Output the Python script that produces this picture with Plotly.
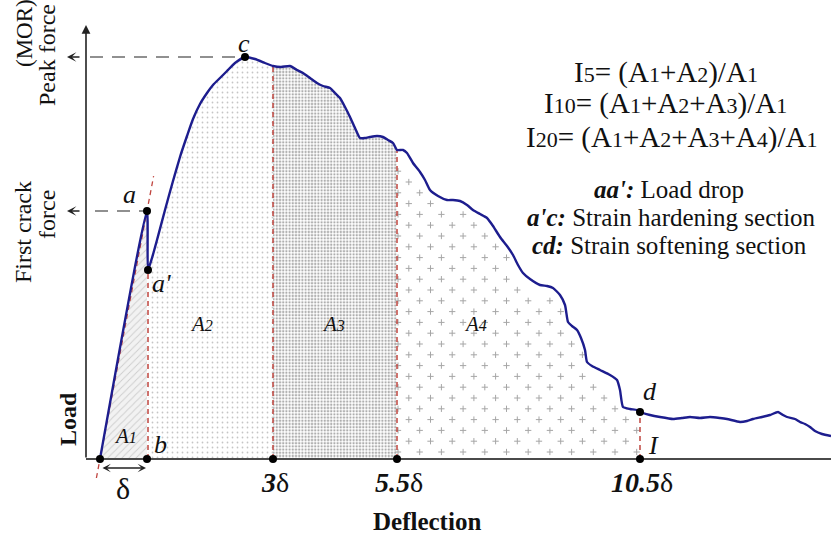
import numpy as np
import plotly.graph_objects as go

# Load-deflection curve (schematic units: deflection and load)
deflection = [0.0, 4.7, 4.8, 5.2, 5.7, 6.5, 7.3, 8.0, 8.7, 9.3, 10.0, 10.7, 11.3, 12.0, 12.7, 13.5, 14.5,
              15.5, 16.5, 17.3, 18.1, 19.0, 19.7, 20.3, 21.0, 21.7, 22.3, 23.0, 23.5, 24.0, 24.5, 25.0,
              25.5, 26.0, 26.5, 27.0, 27.7, 28.3, 28.8, 29.3, 29.7,
              30.3, 30.7, 31.3, 32.0, 32.5, 33.0, 33.8, 34.7, 35.3, 36.0, 36.7, 37.3, 38.0, 38.7, 39.3,
              40.0, 40.7, 41.3, 41.8, 42.3, 43.0, 44.0, 44.7, 45.3, 46.0, 46.5, 46.8, 47.2, 47.7, 48.1,
              48.5, 48.7, 49.2, 50.0, 51.0, 51.7, 52.0, 52.3, 53.0, 53.7, 54.0,
              55.0, 56.0, 57.3, 58.2, 59.0, 60.0, 61.0, 62.0, 62.7, 64.0, 64.7, 65.3, 66.2, 67.0, 67.8,
              68.3, 68.7, 69.5, 70.0, 70.5, 71.0, 71.5, 72.2, 73.1]
load = [0.0, 24.8, 18.9, 20.1, 21.9, 24.9, 27.8, 30.2, 32.3, 34.0, 35.5, 36.6, 37.4, 38.1, 38.8, 39.6, 40.2,
        40.0, 39.6, 39.3, 39.2, 39.3, 38.9, 38.6, 38.1, 37.6, 37.3, 37.1, 36.6, 36.1, 35.2, 34.2,
        33.1, 32.1, 32.1, 32.2, 32.3, 32.2, 31.9, 31.6, 30.9,
        30.9, 30.6, 29.6, 28.7, 27.9, 26.9, 26.3, 25.9, 25.9, 25.8, 25.4, 24.9, 24.5, 24.1, 23.3,
        22.2, 21.3, 20.4, 19.4, 18.6, 18.0, 17.4, 17.3, 17.1, 16.4, 15.4, 13.7, 13.3, 12.9, 12.1,
        10.9, 9.7, 9.3, 8.9, 8.4, 7.9, 6.9, 5.2, 5.0, 4.9, 4.7,
        4.4, 4.2, 4.0, 4.1, 4.2, 4.1, 4.2, 4.1, 4.0, 3.7, 3.8, 4.0, 4.2, 4.4, 4.7,
        4.4, 4.2, 4.0, 3.7, 3.5, 3.2, 2.8, 2.5, 2.3]

# Characteristic points
pt_names = ["a", "a'", "c", "d"]
pt_defl = [4.7, 4.8, 14.5, 54.0]
pt_load = [24.8, 18.9, 40.2, 4.7]

# Deflection marks on the horizontal axis
mark_defl = [0.0, 4.7, 17.3, 29.7, 54.0]
mark_text = ["", "", "<b><i>3</i></b>δ", "<b><i>5.5</i></b>δ", "<b><i>10.5</i></b>δ"]

first_crack = 24.8
peak_force = 40.2

FONT = "Liberation Serif, Times New Roman, Times, serif"
INK = "#111111"
CURVE = "#1d1d8e"
RED = "#c0453f"

idx = {v: i for i, v in enumerate(deflection)}
i_a, i_a2, i_3, i_55, i_d = idx[4.7], idx[4.8], idx[17.3], idx[29.7], idx[54.0]

fig = go.Figure()


def region(xs, ys, pattern=None, color="white"):
    px = [xs[0]] + list(xs) + [xs[-1]]
    py = [0.0] + list(ys) + [0.0]
    fig.add_trace(go.Scatter(x=px, y=py, mode="lines", fill="toself", line=dict(width=0),
                             fillcolor=color, fillpattern=pattern, hoverinfo="skip", showlegend=False))


# A1 .. A4 areas under the curve
region(deflection[:i_a + 1], load[:i_a + 1],
       dict(shape="/", size=5, solidity=0.18, fgcolor="#a8a8a8", bgcolor="#f2f2f2"))
region(deflection[i_a2:i_3 + 1], load[i_a2:i_3 + 1],
       dict(shape=".", size=5, solidity=0.10, fgcolor="#8c8c8c", bgcolor="white"))
region(deflection[i_3:i_55 + 1], load[i_3:i_55 + 1],
       dict(shape=".", size=3.2, solidity=0.42, fgcolor="#5e5e5e", bgcolor="white"))
region(deflection[i_55:i_d + 1], load[i_55:i_d + 1])

# "+" texture of A4
cx, cy = [], []
for k, yy in enumerate(np.arange(0.7, 33.0, 1.08)):
    x0 = deflection[i_55] + 0.1 + (1.08 if k % 2 else 0.0)
    for xx in np.arange(x0, deflection[i_d] - 0.2, 2.17):
        if yy < np.interp(xx, deflection, load) - 0.9:
            cx.append(xx)
            cy.append(yy)
fig.add_trace(go.Scatter(x=cx, y=cy, mode="markers", hoverinfo="skip", showlegend=False,
                         marker=dict(symbol="cross-thin", size=4.5, line=dict(width=1, color="#a6a6a6"))))

# Red dashed boundaries of the areas
for i in [i_a2, i_3, i_55, i_d]:
    fig.add_trace(go.Scatter(x=[deflection[i], deflection[i]], y=[0, load[i]], mode="lines",
                             line=dict(color=RED, width=1.5, dash="5px,4px"),
                             hoverinfo="skip", showlegend=False))

# Tangent to the linear-elastic branch
slope = load[i_a] / deflection[i_a]
tx = [-0.36, 5.36]
fig.add_trace(go.Scatter(x=tx, y=[slope * t for t in tx], mode="lines",
                         line=dict(color=RED, width=1.3, dash="5px,4px"),
                         hoverinfo="skip", showlegend=False))

# Reference levels for first crack force and peak force
fig.add_trace(go.Scatter(x=[-1.0, pt_defl[2]], y=[peak_force, peak_force], mode="lines",
                         line=dict(color="#222222", width=1.2, dash="13px,9px"),
                         hoverinfo="skip", showlegend=False))
fig.add_trace(go.Scatter(x=[-0.5, pt_defl[0]], y=[first_crack, first_crack], mode="lines",
                         line=dict(color="#222222", width=1.2, dash="13px,9px"),
                         hoverinfo="skip", showlegend=False))

# Horizontal axis line
fig.add_trace(go.Scatter(x=[-1.4, 73.1], y=[0, 0], mode="lines",
                         line=dict(color="#4a4a4a", width=2), hoverinfo="skip", showlegend=False))

# Load-deflection curve
fig.add_trace(go.Scatter(x=deflection, y=load, mode="lines", line_shape="spline",
                         line=dict(color=CURVE, width=2.4, smoothing=0.5),
                         hoverinfo="skip", showlegend=False))

# Points
fig.add_trace(go.Scatter(x=mark_defl + pt_defl, y=[0] * len(mark_defl) + pt_load, mode="markers",
                         marker=dict(color="black", size=8), hoverinfo="skip", showlegend=False))

ann = []


def txt(x, y, s, size, angle=0):
    ann.append(dict(x=x, y=y, xref="x", yref="y", text=s, showarrow=False, textangle=angle,
                    xanchor="center", yanchor="middle", font=dict(family=FONT, size=size, color=INK)))


def arrow(x, y, ax, ay, head=2, side="end", width=1.4, size=1.0):
    ann.append(dict(x=x, y=y, ax=ax, ay=ay, xref="x", yref="y", axref="x", ayref="y", text="",
                    showarrow=True, arrowhead=head, arrowside=side, arrowwidth=width,
                    arrowsize=size, arrowcolor="#222222", standoff=0, startstandoff=0,
                    startarrowhead=head, startarrowsize=size))


# Vertical axis with arrow
arrow(-1.4, 43.4, -1.4, 0.0, head=2, width=1.6, size=1.1)
# Arrows toward the force levels
arrow(-3.3, peak_force, -1.9, peak_force, head=3, width=1.3, size=1.2)
arrow(-3.3, first_crack, -1.9, first_crack, head=3, width=1.3, size=1.2)
# Deflection δ span
arrow(4.6, -0.9, 0.1, -0.9, head=3, side="end+start", width=1.4, size=1.0)

# Axis titles and side labels
txt(-7.6, 42.6, "(MOR)", 23, -90)
txt(-5.3, 40.4, "Peak force", 24, -90)
txt(-7.7, 22.7, "First crack", 24, -90)
txt(-5.3, 24.4, "force", 24, -90)
txt(-3.2, 4.0, "<b>Load</b>", 24, -90)
txt(32.7, -6.2, "<b>Deflection</b>", 25)

# Deflection marks
txt(2.3, -2.9, "δ", 30)
for xv, s in zip(mark_defl, mark_text):
    if s:
        txt(xv + 0.2, -2.3, s, 28)

# Point labels
txt(14.4, 41.6, "<i>c</i>", 26)
txt(2.9, 26.5, "<i>a</i>", 26)
txt(6.1, 17.6, "<i>a'</i>", 26)
txt(6.0, 1.5, "<i>b</i>", 26)
txt(55.0, 6.8, "<i>d</i>", 26)
txt(55.3, 1.4, "<i>I</i>", 26)

# Area labels
sub = "<span style='font-size:16px'>{}</span>"
for xv, yv, n in [(2.5, 2.3, 1), (10.1, 13.5, 2), (23.3, 13.5, 3), (37.5, 13.5, 4)]:
    txt(xv, yv, "<i>A" + sub.format(n) + "</i>", 21)

# Toughness indices
s = "<span style='font-size:22px'>{}</span>"
A = lambda n: "A" + s.format(n)
txt(56.6, 38.7, "I" + s.format(5) + "= (" + A(1) + "+" + A(2) + ")/" + A(1), 29)
txt(56.5, 35.6, "I" + s.format(10) + "= (" + A(1) + "+" + A(2) + "+" + A(3) + ")/" + A(1), 29)
txt(57.2, 32.2, "I" + s.format(20) + "= (" + A(1) + "+" + A(2) + "+" + A(3) + "+" + A(4) + ")/" + A(1), 29)

# Section descriptions
txt(56.9, 27.0, "<b><i>aa':</i></b> Load drop", 25)
txt(57.1, 24.2, "<b><i>a'c:</i></b> Strain hardening section", 25)
txt(56.9, 21.4, "<b><i>cd:</i></b> Strain softening section", 25)

fig.update_layout(
    width=831, height=536, autosize=False,
    margin=dict(l=0, r=0, t=0, b=0),
    paper_bgcolor="white", plot_bgcolor="white",
    xaxis=dict(range=[-10.0, 73.1], visible=False, fixedrange=True),
    yaxis=dict(range=[-7.7, 45.9], visible=False, fixedrange=True),
    annotations=ann,
    font=dict(family=FONT, color=INK),
    showlegend=False,
)

fig.write_html("out.html")
